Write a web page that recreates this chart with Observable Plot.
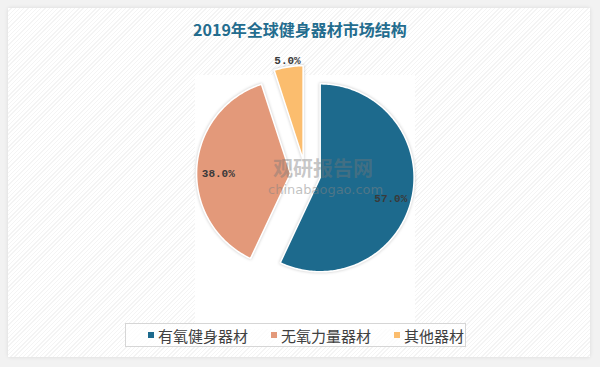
<!DOCTYPE html>
<html><head><meta charset="utf-8">
<script src="https://cdn.jsdelivr.net/npm/d3@7"></script>
<script src="https://cdn.jsdelivr.net/npm/@observablehq/plot@0.6"></script>
<style>
body{margin:0;background:#fff;}
#wrap{position:relative;width:600px;height:367px;background:#f2f2f2;overflow:hidden;font-family:"Noto Sans CJK SC","Noto Sans",sans-serif;}
#card{position:absolute;left:8px;top:8px;width:582px;height:349px;background:repeating-linear-gradient(135deg,#ffffff 0px,#ffffff 2px,#f4f4f4 2px,#f4f4f4 3px);box-shadow:0 0 4px rgba(0,0,0,0.10);}
#plotbg{position:absolute;left:195px;top:75px;width:220px;height:254px;background:#fff;}
#title{position:absolute;left:0;top:18px;width:600px;text-align:center;font-size:16px;font-weight:bold;color:#236c8e;line-height:22px;}
#chart{position:absolute;left:0;top:40px;}
#chart svg path{filter:drop-shadow(0 0 1.5px rgba(0,0,0,0.22));}
#wm1{position:absolute;left:273px;top:158px;font-size:20px;line-height:20px;font-weight:bold;color:rgba(120,120,120,0.42);}
#wm2{position:absolute;left:268px;top:183px;font-size:13px;line-height:13px;font-family:"DejaVu Sans",sans-serif;color:rgba(130,130,130,0.5);}
#legend{position:absolute;left:125px;top:323px;width:341px;height:24px;border:1px solid #d6d6d6;background:rgba(255,255,255,0.7);display:flex;align-items:center;padding-left:22px;box-sizing:border-box;font-size:15px;color:#404040;}
.item{display:flex;align-items:center;margin-right:23px;white-space:nowrap;}
.sw{display:inline-block;width:6px;height:6px;margin-right:4px;}
</style></head>
<body>
<div id="wrap">
  <div id="card"></div>
  <div id="plotbg"></div>
  <div id="title"></div>
  <div id="chart"></div>
  <div id="wm1">观研报告网</div>
  <div id="wm2">chinabaogao.com</div>
  <div id="legend"></div>
</div>
<script>
const titleText = "2019年全球健身器材市场结构";
const categories = ["有氧健身器材", "无氧力量器材", "其他器材"];
const shares = [57.0, 38.0, 5.0];
const colors = ["#1d6a8d", "#e3997a", "#fbbd6e"];

document.getElementById("title").textContent = titleText;

const W = 600, H = 280, R = 94, CX = 305, CY = 134;
const EXPLODE = 15 / R;

const arcs = d3.pie().sort(null).value(d => d)(shares);
const outline = [];
const labelPts = [];
arcs.forEach((a, i) => {
  const name = categories[i];
  const mid = (a.startAngle + a.endAngle) / 2;
  const ox = EXPLODE * Math.sin(mid), oy = EXPLODE * Math.cos(mid);
  outline.push({name, x: ox, y: oy});
  const n = Math.max(2, Math.ceil((a.endAngle - a.startAngle) / (Math.PI / 180)));
  for (let k = 0; k <= n; k++) {
    const t = a.startAngle + (a.endAngle - a.startAngle) * k / n;
    outline.push({name, x: ox + Math.sin(t), y: oy + Math.cos(t)});
  }
  outline.push({name, x: ox, y: oy});
  const small = a.data < 10;
  const lr = small ? 1 + EXPLODE + 0.065 : 0.77 + EXPLODE;
  labelPts.push({name, text: a.data.toFixed(1) + "%", x: lr * Math.sin(mid), y: lr * Math.cos(mid) - (small ? 0 : 0.05)});
});

const chart = Plot.plot({
  width: W, height: H,
  margin: 0,
  x: {domain: [-CX / R, (W - CX) / R], range: [0, W], axis: null},
  y: {domain: [CY / R, (CY - H) / R], range: [0, H], axis: null},
  color: {domain: categories, range: colors},
  style: {background: "transparent", overflow: "visible"},
  marks: [
    Plot.line(outline, {x: "x", y: "y", z: "name", fill: "name", stroke: "white", strokeWidth: 1.6, curve: "linear"}),
    Plot.text(labelPts, {x: "x", y: "y", text: "text", fill: "#3a3a3a", fontSize: 11, fontFamily: "Liberation Mono, DejaVu Sans Mono, monospace", fontWeight: "bold"})
  ]
});
document.getElementById("chart").appendChild(chart);

const legend = document.getElementById("legend");
categories.forEach((c, i) => {
  const it = document.createElement("div");
  it.className = "item";
  const sw = document.createElement("span");
  sw.className = "sw";
  sw.style.background = colors[i];
  it.appendChild(sw);
  it.appendChild(document.createTextNode(c));
  legend.appendChild(it);
});
</script>
</body></html>
